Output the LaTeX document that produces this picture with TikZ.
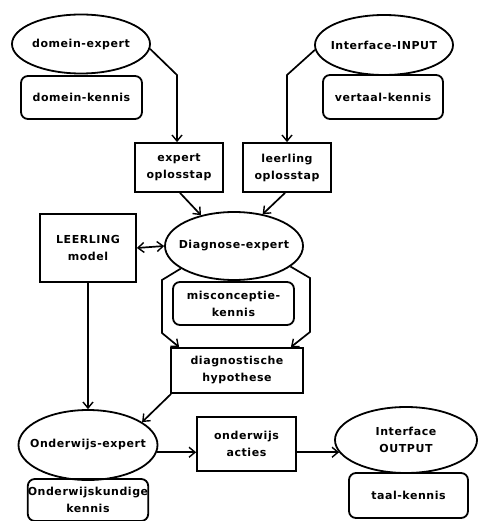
\documentclass[tikz,border=0pt]{standalone}
\usepackage{fontspec}
\setmainfont{DejaVu Sans}[LetterSpace=5]
\usetikzlibrary{arrows.meta,shapes.geometric}
\begin{document}
\begin{tikzpicture}[x=1pt,y=-1pt,
  every node/.style={font=\bfseries\fontsize{11}{17}\selectfont, align=center, line width=1.8pt, inner sep=0pt},
  ell/.style={draw, ellipse},
  rbox/.style={draw, rounded corners=7pt},
  sbox/.style={draw},
  tip/.tip={Straight Barb[length=6pt,width=10pt,line width=1.4pt]},
  arr/.style={line width=1.7pt, -tip},
  ln/.style={line width=1.7pt}]
\useasboundingbox (0,0) rectangle (482,521);
\fill[white] (0,0) rectangle (482,521);
% nodes
\node[ell, minimum width=138, minimum height=59, label={center:domein-expert}] (de) at (81,44) {};
\node[rbox, minimum width=121, minimum height=43] (dk) at (81.5,97.5) {domein-kennis};
\node[ell, minimum width=138, minimum height=60, label={center:Interface-INPUT}] (ii) at (384,45) {};
\node[rbox, minimum width=120, minimum height=44] (vk) at (383,97) {vertaal-kennis};
\node[sbox, minimum width=88, minimum height=49] (eo) at (179,167.5) {expert\\oplosstap};
\node[sbox, minimum width=88, minimum height=49] (lo) at (287,167.5) {leerling\\oplosstap};
\node[sbox, minimum width=96, minimum height=68] (lm) at (88,248) {LEERLING\\model};
\node[ell, minimum width=138, minimum height=68, label={center:Diagnose-expert}] (dx) at (234,246) {};
\node[rbox, minimum width=121, minimum height=43] (mk) at (233.5,303.5) {misconceptie-\\kennis};
\node[sbox, minimum width=132, minimum height=45] (dh) at (237,370.5) {diagnostische\\hypothese};
\node[ell, minimum width=139, minimum height=70, label={center:Onderwijs-expert}] (oe) at (88,445) {};
\node[sbox, minimum width=99, minimum height=54] (oa) at (246.5,444) {onderwijs\\acties};
\node[ell, minimum width=142, minimum height=66, label={center:Interface\\OUTPUT}] (io) at (406,440) {};
\node[rbox, minimum width=119, minimum height=45] (tk) at (408.5,495.5) {taal-kennis};
\node[rbox, minimum width=120, minimum height=42] (ok) at (88,500) {Onderwijskundige\\kennis};
% connectors
\coordinate (k1) at (177,75);
\draw[arr] (de.-4) -- (k1) -- (k1 |- eo.north);
\coordinate (k2) at (287,75);
\draw[arr] (ii.-176) -- (k2) -- (k2 |- lo.north);
\draw[arr] ([xshift=1pt]eo.south) -- (dx.137);
\draw[arr] ([xshift=-2pt]lo.south) -- (dx.48);
\draw[ln, tip-tip] (lm.east) -- (dx.west);
\coordinate (l1) at (162,280);
\coordinate (l2) at (162,333);
\draw[arr] (dx.-157) -- (l1) -- (l2) -- ([xshift=9pt]dh.north west);
\coordinate (r1) at (310,278);
\coordinate (r2) at (310,332);
\draw[arr] (dx.-20) -- (r1) -- (r2) -- ([xshift=-13pt]dh.north east);
\draw[arr] ([xshift=1pt]dh.south west) -- (oe.23);
\draw[arr] (lm.south) -- (oe.north);
\coordinate (h1) at (oe.-6);
\draw[arr] (h1) -- (h1 -| oa.west);
\draw[arr] (h1 -| oa.east) -- ([xshift=5pt]io.west |- h1);
\end{tikzpicture}
\end{document}
